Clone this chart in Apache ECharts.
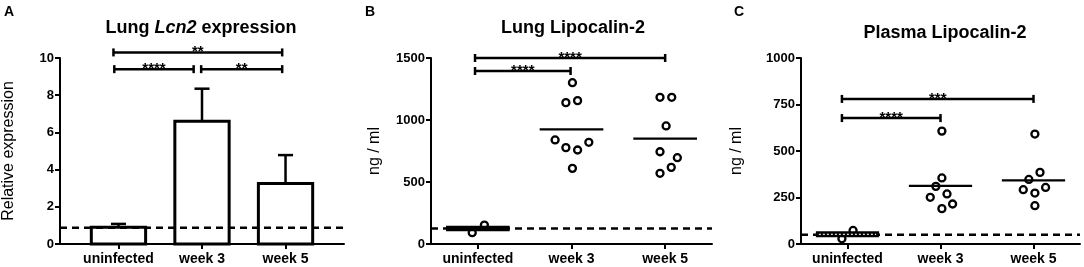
<!DOCTYPE html>
<html>
<head>
<meta charset="utf-8">
<script src="https://cdn.jsdelivr.net/npm/echarts@6/dist/echarts.min.js"></script>
<style>
  html, body { margin: 0; padding: 0; background: #fff; }
  #chart { width: 1084px; height: 267px; }
</style>
</head>
<body>
<div id="chart"></div>
<script>
const categories = ['uninfected', 'week 3', 'week 5'];

// A: lung Lcn2 relative expression, bar = mean, whisker = top of SEM
const lcn2Mean = [0.9, 6.6, 3.25];
const lcn2ErrTop = [1.08, 8.35, 4.78];
const lcn2Baseline = 0.88;

// B: lung Lipocalin-2 (ng / ml), one value per mouse
const lungValues = [
    [91, 153],
    [1301, 1140, 1156, 839, 777, 758, 820, 610],
    [1183, 1183, 952, 744, 696, 618, 570]
];
const lungJitter = [
    [-0.06, 0.07],
    [0.01, -0.06, 0.065, -0.175, -0.06, 0.065, 0.185, 0.01],
    [-0.055, 0.07, 0.01, -0.055, 0.13, 0.065, -0.055]
];
const lungMeans = [126, 925, 849];
const lungBaseline = 126;

// C: plasma Lipocalin-2 (ng / ml)
const plasmaValues = [
    [28, 73],
    [607, 355, 310, 269, 251, 215, 190],
    [591, 385, 347, 304, 292, 274, 206]
];
const plasmaJitter = [
    [-0.06, 0.06],
    [0.015, 0.015, -0.05, 0.07, -0.11, 0.13, 0.015],
    [0.015, 0.07, -0.05, 0.13, -0.11, 0.015, 0.015]
];
const plasmaMeans = [52, 313, 342];
const plasmaBaseline = 50;

// significance brackets: [from, to, height, stars]
const lcn2Sig = [[0.94, 2.96, 10.3, '**'], [0.95, 1.9, 9.4, '****'], [1.99, 2.96, 9.4, '**']];
const lungSig = [[0.97, 3.0, 1500, '****'], [0.97, 1.99, 1395, '****']];
const plasmaSig = [[0.94, 3.0, 780, '***'], [0.94, 2.0, 677, '****']];

const FONT = 'Arial, "Liberation Sans", Helvetica, sans-serif';
const BLACK = '#000';

function xAxisFor(gridIndex, min, max) {
    return {
        type: 'value', gridIndex: gridIndex, min: min, max: max,
        axisLine: { show: true, onZero: false, lineStyle: { color: BLACK, width: 2 } },
        axisTick: { show: true, customValues: [1, 2, 3], length: 5, lineStyle: { color: BLACK, width: 2 } },
        axisLabel: {
            customValues: [1, 2, 3],
            formatter: v => categories[Math.round(v) - 1] || '',
            color: BLACK, fontWeight: 'bold', fontSize: 14, fontFamily: FONT, margin: 8
        },
        splitLine: { show: false }
    };
}

function yAxisFor(gridIndex, max, interval, name, nameGap) {
    return {
        type: 'value', gridIndex: gridIndex, min: 0, max: max, interval: interval,
        name: name, nameLocation: 'middle', nameGap: nameGap, nameRotate: 90,
        nameMoveOverlap: false,
        nameTextStyle: { color: BLACK, fontSize: 16, fontFamily: FONT },
        axisLine: { show: true, onZero: false, lineStyle: { color: BLACK, width: 2 } },
        axisTick: { show: true, length: 5, lineStyle: { color: BLACK, width: 2 } },
        axisLabel: {
            formatter: v => String(v),
            color: BLACK, fontWeight: 'bold', fontSize: 13, fontFamily: FONT, margin: 6
        },
        splitLine: { show: false }
    };
}

// dashed reference line across the whole plot
function baselineSeries(idx, value) {
    return {
        type: 'custom', xAxisIndex: idx, yAxisIndex: idx, z: 4, silent: true,
        data: [[value]],
        renderItem: (params, api) => {
            const cs = params.coordSys;
            const y = api.coord([1, api.value(0)])[1];
            return {
                type: 'line',
                shape: { x1: cs.x, y1: y, x2: cs.x + cs.width, y2: y },
                style: { stroke: BLACK, lineWidth: 2.5, lineDash: [7, 5] }
            };
        }
    };
}

function bracketSeries(idx, sig) {
    return {
        type: 'custom', xAxisIndex: idx, yAxisIndex: idx, z: 6, silent: true, clip: false,
        data: sig.map(s => [s[0], s[1], s[2]]),
        renderItem: (params, api) => {
            const p1 = api.coord([api.value(0), api.value(2)]);
            const p2 = api.coord([api.value(1), api.value(2)]);
            const ln = { stroke: BLACK, lineWidth: 2.5 };
            return {
                type: 'group',
                children: [
                    { type: 'line', shape: { x1: p1[0], y1: p1[1], x2: p2[0], y2: p2[1] }, style: ln },
                    { type: 'line', shape: { x1: p1[0], y1: p1[1] - 4, x2: p1[0], y2: p1[1] + 4 }, style: ln },
                    { type: 'line', shape: { x1: p2[0], y1: p2[1] - 4, x2: p2[0], y2: p2[1] + 4 }, style: ln },
                    {
                        type: 'text', x: (p1[0] + p2[0]) / 2, y: p1[1] - 0.5,
                        style: {
                            text: sig[params.dataIndex][3], fill: BLACK,
                            fontSize: 15, fontWeight: 'bold', fontFamily: FONT,
                            align: 'center', verticalAlign: 'middle',
                            textAlign: 'center', textVerticalAlign: 'middle'
                        }
                    }
                ]
            };
        }
    };
}

function pointSeries(idx, values, jitter) {
    const data = [];
    values.forEach((group, c) => {
        group.forEach((v, i) => data.push([c + 1 + jitter[c][i], v]));
    });
    return {
        type: 'scatter', xAxisIndex: idx, yAxisIndex: idx, z: 3, silent: true,
        symbol: 'circle', symbolSize: 7,
        itemStyle: { color: '#fff', borderColor: BLACK, borderWidth: 2.3, opacity: 1 },
        data: data
    };
}

function meanSeries(idx, means, dotted) {
    return {
        type: 'custom', xAxisIndex: idx, yAxisIndex: idx, z: 5, silent: true,
        data: means.map((m, c) => [c + 1, m]),
        renderItem: (params, api) => {
            const x = api.value(0), m = api.value(1);
            const a = api.coord([x - 0.34, m]), b = api.coord([x + 0.34, m]);
            const first = params.dataIndex === 0;
            const children = [{
                type: 'line',
                shape: { x1: a[0], y1: a[1], x2: b[0], y2: b[1] },
                style: { stroke: BLACK, lineWidth: first ? (dotted ? 6 : 5.5) : 2.2 }
            }];
            if (first && dotted) {
                children.push({
                    type: 'line',
                    shape: { x1: a[0] + 3, y1: a[1], x2: b[0] - 3, y2: b[1] },
                    style: { stroke: '#e6e6e6', lineWidth: 1.2, lineDash: [2, 2] }
                });
            }
            return { type: 'group', children: children };
        }
    };
}

const barSeries = {
    type: 'custom', xAxisIndex: 0, yAxisIndex: 0, z: 3, silent: true,
    data: lcn2Mean.map((m, c) => [c + 1, m, lcn2ErrTop[c]]),
    renderItem: (params, api) => {
        const x = api.value(0), m = api.value(1), e = api.value(2);
        const tl = api.coord([x - 0.325, m]), br = api.coord([x + 0.325, 0]);
        const top = api.coord([x, m]), et = api.coord([x, e]);
        const capL = api.coord([x - 0.09, e]), capR = api.coord([x + 0.09, e]);
        const ln = { stroke: BLACK, lineWidth: 2.5 };
        return {
            type: 'group',
            children: [
                { type: 'line', shape: { x1: top[0], y1: top[1], x2: et[0], y2: et[1] }, style: ln },
                { type: 'line', shape: { x1: capL[0], y1: capL[1], x2: capR[0], y2: capR[1] }, style: ln },
                {
                    type: 'rect',
                    shape: { x: tl[0], y: tl[1], width: br[0] - tl[0], height: br[1] - tl[1] },
                    style: { fill: '#fff', stroke: BLACK, lineWidth: 3 }
                }
            ]
        };
    }
};

function textEl(x, y, text, size) {
    return {
        type: 'text', x: x, y: y,
        style: {
            text: text, fill: BLACK, fontSize: size, fontWeight: 'bold', fontFamily: FONT,
            align: 'center', verticalAlign: 'middle', textAlign: 'center', textVerticalAlign: 'middle'
        }
    };
}

const titleA = textEl(201, 28, 'Lung {i|Lcn2} expression', 18);
titleA.style.rich = { i: { fontStyle: 'italic', fontWeight: 'bold', fontSize: 18, fontFamily: FONT, fill: BLACK } };

const chart = echarts.init(document.getElementById('chart'));
chart.setOption({
    animation: false,
    backgroundColor: '#fff',
    grid: [
        { left: 60, top: 58, width: 284, height: 186, outerBoundsMode: 'none' },
        { left: 431, top: 58, width: 281, height: 186, outerBoundsMode: 'none' },
        { left: 801, top: 58, width: 279, height: 186, outerBoundsMode: 'none' }
    ],
    xAxis: [xAxisFor(0, 0.3, 3.7), xAxisFor(1, 0.5, 3.5), xAxisFor(2, 0.5, 3.5)],
    yAxis: [
        yAxisFor(0, 10, 2, 'Relative expression', 43),
        yAxisFor(1, 1500, 500, 'ng / ml', 48),
        yAxisFor(2, 1000, 250, 'ng / ml', 56)
    ],
    graphic: [
        textEl(9, 12, 'A', 14),
        textEl(370, 12, 'B', 14),
        textEl(739, 12, 'C', 14),
        titleA,
        textEl(573, 28, 'Lung Lipocalin-2', 18),
        textEl(945, 33, 'Plasma Lipocalin-2', 18)
    ],
    series: [
        barSeries,
        baselineSeries(0, lcn2Baseline),
        bracketSeries(0, lcn2Sig),

        baselineSeries(1, lungBaseline),
        pointSeries(1, lungValues, lungJitter),
        meanSeries(1, lungMeans, false),
        bracketSeries(1, lungSig),

        baselineSeries(2, plasmaBaseline),
        pointSeries(2, plasmaValues, plasmaJitter),
        meanSeries(2, plasmaMeans, true),
        bracketSeries(2, plasmaSig)
    ]
});
</script>
</body>
</html>
